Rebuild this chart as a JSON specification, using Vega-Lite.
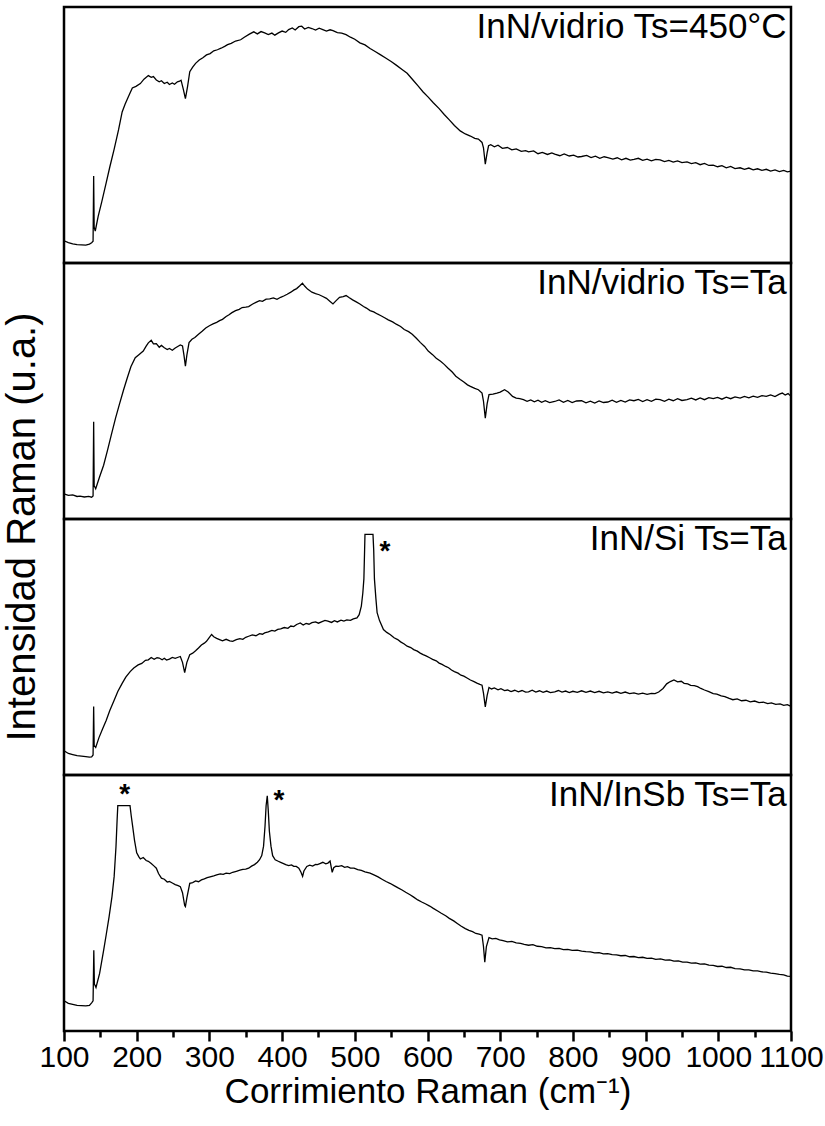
{
"$schema":"https://vega.github.io/schema/vega-lite/v6.json",
"background":"white",
"padding":{"left":2,"top":5,"right":0,"bottom":5},
"spacing":0,
"bounds":"flush",
"title":{"text":"Intensidad Raman (u.a.)","orient":"left","anchor":"middle","fontSize":40,"fontWeight":"normal","color":"black","font":"Liberation Sans","offset":-5,"dx":31},
"config":{"view":{"stroke":"black","strokeWidth":2.5},"font":"Liberation Sans","axis":{"labelFont":"Liberation Sans","titleFont":"Liberation Sans","grid":false},"text":{"font":"Liberation Sans"}},
"datasets":{
"p1":[{"x":100,"y":8.7},{"x":106,"y":8.0},{"x":112,"y":7.5},{"x":118,"y":7.2},{"x":124,"y":7.1},{"x":130,"y":7.0},{"x":135,"y":7.4},{"x":138,"y":7.9},{"x":140,"y":8.5},{"x":140.8,"y":34},{"x":141.5,"y":14},{"x":143,"y":12.5},{"x":147,"y":18.2},{"x":152,"y":24},{"x":158,"y":31.3},{"x":163,"y":37.5},{"x":169,"y":44.5},{"x":175,"y":52},{"x":180,"y":59},{"x":184,"y":62},{"x":187,"y":64},{"x":191,"y":66.5},{"x":194,"y":68.4},{"x":199,"y":69},{"x":205,"y":70.1},{"x":210,"y":71.8},{"x":216,"y":73.2},{"x":220,"y":72.5},{"x":223,"y":72.8},{"x":227,"y":71.5},{"x":231,"y":70.8},{"x":234,"y":71.2},{"x":238,"y":70.1},{"x":242,"y":70.6},{"x":245,"y":69.7},{"x":249,"y":70.3},{"x":252,"y":69.8},{"x":256,"y":70.8},{"x":259,"y":71.0},{"x":261,"y":71.4},{"x":264,"y":68},{"x":267,"y":64.2},{"x":270,"y":69},{"x":273,"y":74.7},{"x":277,"y":76.5},{"x":281,"y":78},{"x":286,"y":79.3},{"x":291,"y":80.2},{"x":296,"y":81.3},{"x":301,"y":81.8},{"x":306,"y":82.9},{"x":311,"y":83.3},{"x":316,"y":83.9},{"x":321,"y":84.6},{"x":325,"y":85.3},{"x":330,"y":85.8},{"x":336,"y":86.7},{"x":343,"y":87.2},{"x":348,"y":88.2},{"x":355,"y":89.4},{"x":361,"y":90.3},{"x":366,"y":89.5},{"x":371,"y":90.4},{"x":376,"y":89.9},{"x":381,"y":89.2},{"x":386,"y":89.8},{"x":390,"y":89.0},{"x":395,"y":89.9},{"x":400,"y":90.6},{"x":405,"y":90.1},{"x":409,"y":91.2},{"x":414,"y":91.8},{"x":418,"y":91.0},{"x":423,"y":92.3},{"x":427,"y":92.5},{"x":431,"y":91.4},{"x":436,"y":92.0},{"x":441,"y":91.6},{"x":446,"y":91.0},{"x":451,"y":91.7},{"x":456,"y":91.2},{"x":461,"y":90.6},{"x":466,"y":91.1},{"x":470,"y":90.8},{"x":476,"y":90.0},{"x":482,"y":89.8},{"x":488,"y":89.2},{"x":494,"y":88.2},{"x":500,"y":87.4},{"x":507,"y":86},{"x":514,"y":85.2},{"x":521,"y":83.8},{"x":528,"y":82.6},{"x":535,"y":81.4},{"x":543,"y":80.0},{"x":550,"y":78.7},{"x":557,"y":77.3},{"x":565,"y":75.6},{"x":572,"y":74.1},{"x":580,"y":71.5},{"x":587,"y":69.2},{"x":594,"y":66.8},{"x":601,"y":64.8},{"x":608,"y":62.6},{"x":616,"y":60.3},{"x":623,"y":58.0},{"x":630,"y":55.9},{"x":637,"y":53.7},{"x":645,"y":51.6},{"x":652,"y":50.4},{"x":659,"y":49.6},{"x":665,"y":48.7},{"x":670,"y":48.4},{"x":675,"y":47.1},{"x":677,"y":45},{"x":679.5,"y":38.6},{"x":682,"y":43},{"x":684,"y":45.8},{"x":687,"y":46.2},{"x":692,"y":45.4},{"x":697,"y":46.0},{"x":703,"y":44.8},{"x":710,"y":45.1},{"x":716,"y":44.2},{"x":722,"y":44.6},{"x":729,"y":43.6},{"x":735,"y":43.9},{"x":739,"y":43.4},{"x":746,"y":43.8},{"x":752,"y":42.7},{"x":758,"y":43.2},{"x":765,"y":42.4},{"x":771,"y":43.0},{"x":775,"y":42.5},{"x":782,"y":41.9},{"x":788,"y":42.6},{"x":795,"y":41.8},{"x":801,"y":42.1},{"x":807,"y":41.4},{"x":812,"y":41.6},{"x":819,"y":42.0},{"x":825,"y":41.2},{"x":831,"y":41.7},{"x":837,"y":40.9},{"x":843,"y":41.5},{"x":848,"y":41.2},{"x":855,"y":40.6},{"x":861,"y":41.1},{"x":867,"y":40.3},{"x":873,"y":40.9},{"x":879,"y":40.2},{"x":884,"y":40.5},{"x":890,"y":40.9},{"x":896,"y":40.1},{"x":902,"y":40.6},{"x":908,"y":39.9},{"x":914,"y":40.5},{"x":920,"y":40.3},{"x":926,"y":39.6},{"x":932,"y":40.1},{"x":938,"y":39.4},{"x":944,"y":39.9},{"x":950,"y":39.2},{"x":957,"y":39.5},{"x":963,"y":38.8},{"x":969,"y":39.2},{"x":975,"y":38.4},{"x":981,"y":38.9},{"x":987,"y":38.1},{"x":993,"y":38.2},{"x":999,"y":37.6},{"x":1005,"y":38.0},{"x":1011,"y":37.2},{"x":1017,"y":37.7},{"x":1023,"y":36.9},{"x":1030,"y":37.2},{"x":1036,"y":36.6},{"x":1042,"y":37.1},{"x":1048,"y":36.4},{"x":1054,"y":36.8},{"x":1060,"y":36.2},{"x":1066,"y":36.6},{"x":1072,"y":35.9},{"x":1078,"y":36.4},{"x":1084,"y":35.7},{"x":1090,"y":36.2},{"x":1095,"y":35.6},{"x":1100,"y":35.9}],
"p2":[{"x":100,"y":9.8},{"x":106,"y":9.2},{"x":112,"y":9.4},{"x":118,"y":8.8},{"x":122,"y":8.9},{"x":128,"y":8.6},{"x":134,"y":8.8},{"x":138,"y":8.5},{"x":140,"y":9},{"x":140.8,"y":38},{"x":141.5,"y":13},{"x":143.6,"y":11.8},{"x":149,"y":16.5},{"x":154.5,"y":21},{"x":160,"y":27},{"x":165,"y":32.8},{"x":171,"y":39.5},{"x":176,"y":44.6},{"x":182,"y":50.5},{"x":187,"y":55.1},{"x":192,"y":59.5},{"x":198,"y":63},{"x":203,"y":64.2},{"x":209,"y":65.6},{"x":213,"y":67.5},{"x":216,"y":68.8},{"x":220,"y":69.8},{"x":223,"y":68.4},{"x":227,"y":68.5},{"x":231,"y":67.1},{"x":234,"y":67.8},{"x":238,"y":66.9},{"x":242,"y":66.2},{"x":245,"y":66.6},{"x":249,"y":65.9},{"x":253,"y":66.8},{"x":257,"y":67.5},{"x":260,"y":68},{"x":263,"y":67.6},{"x":265,"y":64},{"x":267,"y":59.7},{"x":269,"y":64},{"x":272,"y":68.9},{"x":276,"y":70.2},{"x":280,"y":70.9},{"x":285,"y":72.2},{"x":290,"y":73.3},{"x":295,"y":74.6},{"x":300,"y":75.5},{"x":305,"y":76.2},{"x":310,"y":76.8},{"x":314,"y":77.5},{"x":318,"y":78},{"x":323,"y":79.1},{"x":327,"y":79.8},{"x":331,"y":80.6},{"x":336,"y":81.4},{"x":341,"y":81.9},{"x":345,"y":82.6},{"x":350,"y":82.8},{"x":354,"y":83},{"x":359,"y":83.9},{"x":364,"y":84.6},{"x":369,"y":85.3},{"x":373,"y":85.0},{"x":378,"y":85.9},{"x":383,"y":86},{"x":388,"y":86.4},{"x":393,"y":85.8},{"x":398,"y":86.6},{"x":403,"y":87.2},{"x":407,"y":87.8},{"x":412,"y":88.6},{"x":416,"y":89.4},{"x":420,"y":90.0},{"x":424,"y":91.0},{"x":428,"y":92.1},{"x":431,"y":91.0},{"x":435,"y":89.8},{"x":441,"y":88.6},{"x":446,"y":88.0},{"x":451,"y":87.6},{"x":456,"y":86.9},{"x":461,"y":86.2},{"x":466,"y":85.0},{"x":470,"y":84.0},{"x":474,"y":85.2},{"x":479,"y":86.6},{"x":484,"y":86.9},{"x":488,"y":87.3},{"x":492,"y":86.5},{"x":497,"y":85.6},{"x":502,"y":84.8},{"x":507,"y":84.0},{"x":512,"y":83.0},{"x":516,"y":82.4},{"x":521,"y":81.4},{"x":526,"y":80.9},{"x":531,"y":80.1},{"x":536,"y":79.4},{"x":541,"y":78.6},{"x":546,"y":77.8},{"x":552,"y":77.0},{"x":557,"y":76.1},{"x":563,"y":75.2},{"x":568,"y":74.0},{"x":574,"y":73.2},{"x":579,"y":72.2},{"x":585,"y":70.5},{"x":590,"y":69.0},{"x":596,"y":67.4},{"x":601,"y":65.6},{"x":607,"y":64.2},{"x":612,"y":62.8},{"x":618,"y":61.6},{"x":623,"y":60.4},{"x":628,"y":59.0},{"x":634,"y":57.4},{"x":639,"y":55.8},{"x":645,"y":54.5},{"x":650,"y":53.5},{"x":655,"y":52.4},{"x":659,"y":51.8},{"x":665,"y":51.0},{"x":670,"y":50.5},{"x":675,"y":49.2},{"x":677,"y":46},{"x":679.5,"y":39.4},{"x":682,"y":45},{"x":684.6,"y":48.6},{"x":690,"y":48.8},{"x":695.5,"y":49.2},{"x":700,"y":49.6},{"x":706,"y":50.5},{"x":711,"y":49.6},{"x":717,"y":47.9},{"x":722,"y":47.2},{"x":727,"y":47.0},{"x":732,"y":46.6},{"x":737,"y":46.0},{"x":742,"y":46.5},{"x":747,"y":45.8},{"x":752,"y":46.4},{"x":757,"y":45.6},{"x":762,"y":46.2},{"x":768,"y":45.5},{"x":775,"y":45.9},{"x":781,"y":46.5},{"x":787,"y":45.6},{"x":793,"y":46.3},{"x":799,"y":45.5},{"x":805,"y":46.1},{"x":812,"y":46.2},{"x":818,"y":45.4},{"x":824,"y":46.0},{"x":830,"y":45.3},{"x":836,"y":46.1},{"x":842,"y":45.5},{"x":848,"y":45.7},{"x":854,"y":46.4},{"x":860,"y":45.6},{"x":866,"y":46.3},{"x":872,"y":45.7},{"x":878,"y":46.5},{"x":884,"y":46.2},{"x":890,"y":46.7},{"x":896,"y":45.9},{"x":902,"y":46.6},{"x":908,"y":46.0},{"x":914,"y":46.8},{"x":920,"y":46.6},{"x":926,"y":46.0},{"x":932,"y":46.8},{"x":938,"y":46.2},{"x":944,"y":47.0},{"x":950,"y":46.3},{"x":957,"y":46.6},{"x":963,"y":47.2},{"x":969,"y":46.5},{"x":975,"y":47.3},{"x":981,"y":46.6},{"x":987,"y":47.4},{"x":993,"y":47.0},{"x":999,"y":47.5},{"x":1005,"y":46.8},{"x":1011,"y":47.6},{"x":1017,"y":47.0},{"x":1023,"y":47.7},{"x":1030,"y":47.2},{"x":1036,"y":47.9},{"x":1042,"y":47.3},{"x":1048,"y":48.0},{"x":1054,"y":47.5},{"x":1060,"y":48.2},{"x":1066,"y":47.9},{"x":1072,"y":48.5},{"x":1078,"y":47.8},{"x":1084,"y":48.8},{"x":1088,"y":49.2},{"x":1092,"y":48.4},{"x":1096,"y":49.0},{"x":1100,"y":47.9}],
"p3":[{"x":100,"y":9.5},{"x":106,"y":8.4},{"x":112,"y":8.0},{"x":118,"y":7.6},{"x":124,"y":7.4},{"x":130,"y":7.2},{"x":135,"y":7.0},{"x":138,"y":7.1},{"x":140,"y":7.8},{"x":140.8,"y":26.8},{"x":141.5,"y":11.5},{"x":143.6,"y":10.8},{"x":148,"y":14.5},{"x":153,"y":18.0},{"x":158,"y":21.3},{"x":163,"y":25.2},{"x":169,"y":29.2},{"x":174,"y":32.6},{"x":180,"y":35.8},{"x":185,"y":38.2},{"x":191,"y":40.4},{"x":196,"y":41.8},{"x":202,"y":43},{"x":207,"y":43.6},{"x":212,"y":44.8},{"x":216,"y":45},{"x":220,"y":45.9},{"x":224,"y":45.2},{"x":228,"y":45.8},{"x":231,"y":45.7},{"x":235,"y":45.0},{"x":238,"y":45.6},{"x":241,"y":44.9},{"x":245,"y":45.3},{"x":249,"y":45.9},{"x":253,"y":45.6},{"x":257,"y":46.0},{"x":260,"y":46.3},{"x":263,"y":44},{"x":266,"y":40},{"x":269,"y":44},{"x":273,"y":47},{"x":277,"y":47.6},{"x":281,"y":48.5},{"x":285,"y":49.6},{"x":289,"y":50.8},{"x":293,"y":51.5},{"x":296,"y":52.2},{"x":300,"y":53.8},{"x":303,"y":54.9},{"x":306,"y":54.0},{"x":310,"y":53.4},{"x":314,"y":52.9},{"x":318,"y":52.4},{"x":323,"y":53.0},{"x":328,"y":52.4},{"x":332,"y":52.2},{"x":337,"y":52.9},{"x":342,"y":53.3},{"x":346,"y":53.0},{"x":350,"y":53.8},{"x":354,"y":54.2},{"x":359,"y":54.7},{"x":364,"y":54.4},{"x":369,"y":55.2},{"x":373,"y":55.0},{"x":376,"y":55.5},{"x":381,"y":55.9},{"x":386,"y":56.5},{"x":390,"y":56.2},{"x":394,"y":56.9},{"x":398,"y":57.1},{"x":403,"y":57.6},{"x":408,"y":57.3},{"x":412,"y":58.2},{"x":416,"y":58.0},{"x":420,"y":58.8},{"x":425,"y":59.4},{"x":429,"y":58.6},{"x":433,"y":59.2},{"x":437,"y":58.9},{"x":441,"y":59.5},{"x":446,"y":59.8},{"x":450,"y":59.3},{"x":455,"y":59.9},{"x":459,"y":60.4},{"x":463,"y":60.1},{"x":468,"y":59.6},{"x":472,"y":60.3},{"x":476,"y":59.8},{"x":481,"y":60.5},{"x":485,"y":60.1},{"x":489,"y":60.6},{"x":494,"y":60.4},{"x":498,"y":61.0},{"x":503,"y":61.4},{"x":506,"y":62.6},{"x":509,"y":66},{"x":511,"y":71},{"x":512.5,"y":76.6},{"x":513.5,"y":88},{"x":514,"y":94},{"x":525,"y":94},{"x":526,"y":88},{"x":527,"y":76.6},{"x":529,"y":69},{"x":530.7,"y":63.4},{"x":534,"y":60.3},{"x":539.4,"y":56.8},{"x":544,"y":55.7},{"x":549,"y":54.8},{"x":554,"y":53.6},{"x":559,"y":52.9},{"x":563,"y":52.0},{"x":568,"y":51.2},{"x":572,"y":50.3},{"x":577,"y":49.8},{"x":581,"y":49.0},{"x":586,"y":48.4},{"x":590,"y":47.6},{"x":594,"y":47},{"x":598,"y":46.5},{"x":603,"y":45.8},{"x":607,"y":45.2},{"x":612,"y":44.6},{"x":616,"y":43.7},{"x":620,"y":43.2},{"x":625,"y":42.4},{"x":629,"y":41.9},{"x":633,"y":41.0},{"x":637,"y":40.4},{"x":642,"y":39.8},{"x":646,"y":39.0},{"x":650,"y":38.6},{"x":655,"y":37.8},{"x":659,"y":37.1},{"x":664,"y":36.5},{"x":668,"y":35.9},{"x":672,"y":35.4},{"x":675,"y":35.1},{"x":677,"y":32},{"x":679.5,"y":26.6},{"x":682,"y":31},{"x":684.6,"y":34.2},{"x":688,"y":33.6},{"x":692,"y":34.0},{"x":697,"y":33.3},{"x":701,"y":33.7},{"x":706,"y":33.0},{"x":710,"y":33.2},{"x":715,"y":32.6},{"x":720,"y":33.1},{"x":725,"y":32.5},{"x":730,"y":33.0},{"x":735,"y":32.4},{"x":739,"y":32.5},{"x":744,"y":33.1},{"x":749,"y":32.4},{"x":754,"y":32.9},{"x":759,"y":32.3},{"x":764,"y":32.8},{"x":769,"y":32.2},{"x":775,"y":32.5},{"x":780,"y":33.0},{"x":785,"y":32.4},{"x":790,"y":32.8},{"x":795,"y":32.2},{"x":800,"y":32.7},{"x":806,"y":32.3},{"x":812,"y":32.9},{"x":818,"y":32.3},{"x":824,"y":32.8},{"x":830,"y":32.2},{"x":836,"y":32.7},{"x":842,"y":32.1},{"x":848,"y":32.5},{"x":854,"y":32.0},{"x":860,"y":32.5},{"x":866,"y":31.9},{"x":872,"y":32.4},{"x":878,"y":31.8},{"x":884,"y":32.1},{"x":890,"y":31.6},{"x":896,"y":32.0},{"x":902,"y":31.5},{"x":908,"y":31.9},{"x":913,"y":31.8},{"x":918,"y":32.4},{"x":924,"y":33.8},{"x":929,"y":35.6},{"x":934,"y":36.5},{"x":939,"y":37.1},{"x":944,"y":36.4},{"x":949,"y":36.6},{"x":953,"y":35.8},{"x":958,"y":35.6},{"x":962,"y":35.0},{"x":967,"y":34.9},{"x":971.5,"y":34.5},{"x":976,"y":33.8},{"x":981,"y":33.2},{"x":987,"y":32.6},{"x":993,"y":31.8},{"x":998,"y":31.6},{"x":1004,"y":30.9},{"x":1009,"y":30.6},{"x":1015,"y":29.9},{"x":1020,"y":29.4},{"x":1026,"y":29.7},{"x":1032,"y":29.0},{"x":1038,"y":29.2},{"x":1044,"y":28.6},{"x":1050,"y":28.9},{"x":1056,"y":28.3},{"x":1062,"y":28.5},{"x":1068,"y":27.9},{"x":1073,"y":28.2},{"x":1079,"y":27.6},{"x":1085,"y":27.8},{"x":1090,"y":27.2},{"x":1095,"y":27.5},{"x":1100,"y":26.8}],
"p4":[{"x":100,"y":11.8},{"x":106,"y":10.8},{"x":112,"y":10.4},{"x":118,"y":10.0},{"x":124,"y":9.9},{"x":130,"y":9.8},{"x":135,"y":10.0},{"x":138,"y":11.0},{"x":140,"y":11.8},{"x":141,"y":31.5},{"x":141.8,"y":18.4},{"x":144,"y":17.0},{"x":149,"y":22.5},{"x":154.5,"y":31.5},{"x":158,"y":37.5},{"x":162,"y":44.6},{"x":166,"y":52.5},{"x":169,"y":60.4},{"x":171.5,"y":72},{"x":173,"y":82},{"x":174,"y":88},{"x":190.8,"y":88},{"x":192.5,"y":84},{"x":194.4,"y":80},{"x":197,"y":74.5},{"x":200,"y":69.6},{"x":203,"y":68.0},{"x":205,"y":67.2},{"x":209,"y":67.8},{"x":213,"y":66.6},{"x":216,"y":66.3},{"x":220,"y":65.4},{"x":224,"y":64.4},{"x":227,"y":63.6},{"x":230,"y":61.5},{"x":234,"y":59.7},{"x":238,"y":59.3},{"x":242,"y":58.2},{"x":245,"y":58.4},{"x":249,"y":57.8},{"x":253,"y":57.2},{"x":257,"y":56.8},{"x":260,"y":56.4},{"x":263,"y":54},{"x":266,"y":49},{"x":267,"y":48.6},{"x":269,"y":52},{"x":273,"y":57.7},{"x":277,"y":58.0},{"x":281,"y":58.6},{"x":285,"y":58.3},{"x":289,"y":59.0},{"x":293,"y":59.4},{"x":297,"y":59.9},{"x":301,"y":60.2},{"x":306,"y":60.6},{"x":310,"y":61.0},{"x":315,"y":61.4},{"x":319,"y":61.2},{"x":323,"y":61.7},{"x":328,"y":61.5},{"x":332,"y":62},{"x":337,"y":62.4},{"x":342,"y":62.8},{"x":346,"y":63.1},{"x":350,"y":63.2},{"x":354,"y":63.6},{"x":358,"y":64.4},{"x":362,"y":65.0},{"x":366,"y":65.9},{"x":369,"y":66.9},{"x":372,"y":68.5},{"x":374.5,"y":72.2},{"x":376.5,"y":80},{"x":378,"y":88},{"x":379.6,"y":91.9},{"x":381,"y":86},{"x":382.5,"y":78},{"x":384.7,"y":72.2},{"x":387,"y":68.5},{"x":390.5,"y":66.9},{"x":394,"y":66.4},{"x":398,"y":65.9},{"x":402,"y":65.4},{"x":405,"y":65},{"x":409,"y":64.6},{"x":413,"y":64.9},{"x":416,"y":64.3},{"x":419.5,"y":64.3},{"x":423,"y":63.6},{"x":426,"y":62},{"x":428.2,"y":60.4},{"x":430,"y":62.5},{"x":434,"y":64.3},{"x":438,"y":64.8},{"x":442,"y":64.4},{"x":446,"y":65.1},{"x":448.6,"y":65},{"x":452,"y":65.4},{"x":456,"y":65.9},{"x":460,"y":65.3},{"x":463,"y":65.6},{"x":466,"y":66.4},{"x":468.9,"y":62},{"x":471,"y":63.8},{"x":474,"y":64.4},{"x":477.6,"y":64.3},{"x":482,"y":64.6},{"x":486,"y":63.9},{"x":490,"y":64.2},{"x":494,"y":63.6},{"x":499,"y":63.6},{"x":504,"y":63.0},{"x":509,"y":62.7},{"x":514,"y":62.2},{"x":521,"y":61.7},{"x":527,"y":60.9},{"x":532,"y":60.2},{"x":538,"y":59.2},{"x":543,"y":58.4},{"x":549,"y":57.6},{"x":554,"y":56.8},{"x":559,"y":56.0},{"x":565,"y":55.1},{"x":570,"y":54.2},{"x":576,"y":53.2},{"x":581,"y":52.3},{"x":586.6,"y":51.2},{"x":592,"y":50.4},{"x":597,"y":49.7},{"x":603,"y":48.8},{"x":608,"y":47.9},{"x":614,"y":46.9},{"x":619,"y":46.0},{"x":625,"y":45.0},{"x":630,"y":44},{"x":636,"y":43.0},{"x":641,"y":42.0},{"x":646,"y":41.0},{"x":652,"y":40},{"x":657,"y":39.3},{"x":662,"y":38.8},{"x":666.5,"y":38.1},{"x":671,"y":37.8},{"x":675,"y":37.4},{"x":677,"y":33},{"x":678.8,"y":26.9},{"x":681,"y":33},{"x":684.6,"y":36.5},{"x":689,"y":36.0},{"x":694,"y":36.2},{"x":699,"y":35.6},{"x":704,"y":35.3},{"x":710,"y":34.8},{"x":716,"y":35.0},{"x":722,"y":34.4},{"x":728,"y":34.2},{"x":733,"y":33.8},{"x":739,"y":33.5},{"x":745,"y":33.7},{"x":751,"y":33.1},{"x":757,"y":33.0},{"x":763,"y":32.5},{"x":769,"y":32.6},{"x":775,"y":32.2},{"x":781,"y":32.3},{"x":787,"y":31.8},{"x":793,"y":31.9},{"x":799,"y":31.5},{"x":806,"y":31.6},{"x":812,"y":31.2},{"x":818,"y":31.0},{"x":824,"y":30.9},{"x":830,"y":30.5},{"x":836,"y":30.6},{"x":842,"y":30.1},{"x":848,"y":30.2},{"x":854,"y":29.8},{"x":860,"y":29.7},{"x":866,"y":29.4},{"x":872,"y":29.5},{"x":878,"y":29.0},{"x":884,"y":29.1},{"x":890,"y":28.7},{"x":896,"y":28.8},{"x":902,"y":28.4},{"x":908,"y":28.5},{"x":914,"y":28.0},{"x":920.6,"y":28.2},{"x":927,"y":27.7},{"x":933,"y":27.8},{"x":939,"y":27.3},{"x":945,"y":27.4},{"x":951,"y":26.9},{"x":957,"y":26.9},{"x":963,"y":26.5},{"x":969,"y":26.6},{"x":975,"y":26.1},{"x":981,"y":26.2},{"x":987,"y":25.7},{"x":993,"y":25.6},{"x":999,"y":25.2},{"x":1005,"y":25.3},{"x":1011,"y":24.8},{"x":1017,"y":24.9},{"x":1023,"y":24.4},{"x":1030,"y":24.3},{"x":1036,"y":23.9},{"x":1042,"y":23.9},{"x":1048,"y":23.5},{"x":1054,"y":23.5},{"x":1060,"y":23.1},{"x":1066,"y":23.0},{"x":1072,"y":22.6},{"x":1078,"y":22.4},{"x":1084,"y":22.1},{"x":1090,"y":21.9},{"x":1095,"y":21.4},{"x":1100,"y":21.3}]
},
"vconcat":[
{"width":727,"height":256,
 "layer":[
  {"data":{"name":"p1"},"mark":{"type":"line","color":"black","strokeWidth":1.3},
   "encoding":{"x":{"field":"x","type":"quantitative","scale":{"domain":[100,1100],"nice":false,"zero":false},"axis":null},
               "y":{"field":"y","type":"quantitative","scale":{"domain":[0,100],"nice":false,"zero":false},"axis":null}}},
  {"data":{"values":[{"label":"InN/vidrio Ts=450°C"}]},"mark":{"type":"text","align":"right","baseline":"top","fontSize":35,"color":"black"},
   "encoding":{"text":{"field":"label"},"x":{"datum":1094,"type":"quantitative","axis":null},"y":{"datum":99,"type":"quantitative","axis":null}}}
 ]},
{"width":727,"height":256,
 "layer":[
  {"data":{"name":"p2"},"mark":{"type":"line","color":"black","strokeWidth":1.3},
   "encoding":{"x":{"field":"x","type":"quantitative","scale":{"domain":[100,1100],"nice":false,"zero":false},"axis":null},
               "y":{"field":"y","type":"quantitative","scale":{"domain":[0,100],"nice":false,"zero":false},"axis":null}}},
  {"data":{"values":[{"label":"InN/vidrio Ts=Ta"}]},"mark":{"type":"text","align":"right","baseline":"top","fontSize":35,"color":"black"},
   "encoding":{"text":{"field":"label"},"x":{"datum":1094,"type":"quantitative","axis":null},"y":{"datum":99,"type":"quantitative","axis":null}}}
 ]},
{"width":727,"height":256,
 "layer":[
  {"data":{"name":"p3"},"mark":{"type":"line","color":"black","strokeWidth":1.3},
   "encoding":{"x":{"field":"x","type":"quantitative","scale":{"domain":[100,1100],"nice":false,"zero":false},"axis":null},
               "y":{"field":"y","type":"quantitative","scale":{"domain":[0,100],"nice":false,"zero":false},"axis":null}}},
  {"data":{"values":[{"label":"InN/Si Ts=Ta"}]},"mark":{"type":"text","align":"right","baseline":"top","fontSize":35,"color":"black"},
   "encoding":{"text":{"field":"label"},"x":{"datum":1094,"type":"quantitative","axis":null},"y":{"datum":99,"type":"quantitative","axis":null}}},
  {"data":{"values":[{"x":541.5,"y":87,"m":"*"}]},"mark":{"type":"text","fontSize":28,"fontWeight":"bold","baseline":"middle","color":"black"},
   "encoding":{"text":{"field":"m"},"x":{"field":"x","type":"quantitative","axis":null},"y":{"field":"y","type":"quantitative","axis":null}}}
 ]},
{"width":727,"height":256,
 "resolve":{"axis":{"x":"independent"}},
 "layer":[
  {"data":{"name":"p4"},"mark":{"type":"line","color":"black","strokeWidth":1.3},
   "encoding":{"x":{"field":"x","type":"quantitative","scale":{"domain":[100,1100],"nice":false,"zero":false},
                    "axis":{"orient":"bottom","values":[100,200,300,400,500,600,700,800,900,1000,1100],"format":"d","tickSize":10,"tickWidth":2.5,"tickColor":"black","domain":false,"grid":false,"labelFontSize":30,"labelColor":"black","labelPadding":1,"labelOverlap":false,"labelFlush":false,"title":"Corrimiento Raman (cm⁻¹)","titleFontSize":35,"titleFontWeight":"normal","titleColor":"black","titlePadding":2}},
               "y":{"field":"y","type":"quantitative","scale":{"domain":[0,100],"nice":false,"zero":false},"axis":null}}},
  {"data":{"values":[{"label":"InN/InSb Ts=Ta"}]},"mark":{"type":"text","align":"right","baseline":"top","fontSize":35,"color":"black"},
   "encoding":{"text":{"field":"label"},"x":{"datum":1094,"type":"quantitative",
                    "axis":{"orient":"bottom","values":[150,250,350,450,550,650,750,850,950,1050],"tickSize":6,"tickWidth":2.5,"tickColor":"black","labels":false,"domain":false,"grid":false,"title":null}},
               "y":{"datum":99,"type":"quantitative","axis":null}}},
  {"data":{"values":[{"x":183.5,"y":92,"m":"*"},{"x":395.6,"y":90,"m":"*"}]},"mark":{"type":"text","fontSize":28,"fontWeight":"bold","baseline":"middle","color":"black"},
   "encoding":{"text":{"field":"m"},"x":{"field":"x","type":"quantitative","axis":null},"y":{"field":"y","type":"quantitative","axis":null}}}
 ]}
]
}
